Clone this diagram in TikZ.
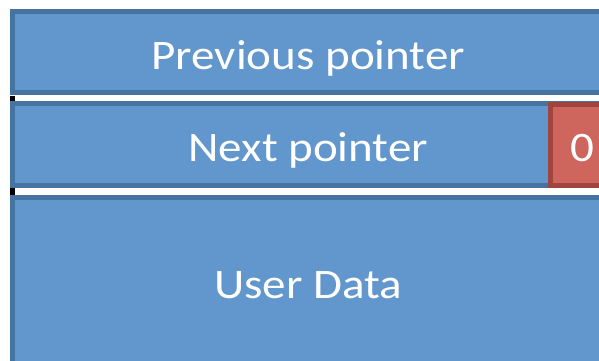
\documentclass[tikz,border=0pt]{standalone}
\usepackage{fontspec}
\setmainfont{Carlito}[FakeStretch=1.12]
\definecolor{blockfill}{RGB}{98,151,205}
\definecolor{blockline}{RGB}{70,116,160}
\definecolor{flagfill}{RGB}{207,102,94}
\definecolor{flagline}{RGB}{160,68,62}

\begin{document}
\begin{tikzpicture}[x=1pt,y=-1pt,
    block/.style={draw=blockline,fill=blockfill,line width=5pt,minimum width=591.5pt,
      text=white,font=\fontsize{42}{50}\selectfont,text height=34pt,text depth=0pt,inner sep=0pt},
    flag/.style={block,draw=flagline,fill=flagfill,minimum width=63.5pt,minimum height=81.5pt}]

    % fix the frame
    \useasboundingbox (0,0) rectangle (599,361);
    \clip (0,0) rectangle (599,361);

    % draw blocks
    \node[block,minimum height=81pt] (prev) at (308.25,52) {Previous pointer};
    \node[block,minimum height=81.5pt] (next) at (308.25,144.25) {Next pointer};
    \node[block,minimum height=167pt] (data) at (308.25,281) {User Data};

    % draw flag bit
    \node[flag] (bit) at (582.25,144.75) {0};

    % draw marks
    \fill[black] (10,95.5) rectangle (15,100.5);
    \fill[black] (10,188) rectangle (15,195);
  \end{tikzpicture}
\end{document}
